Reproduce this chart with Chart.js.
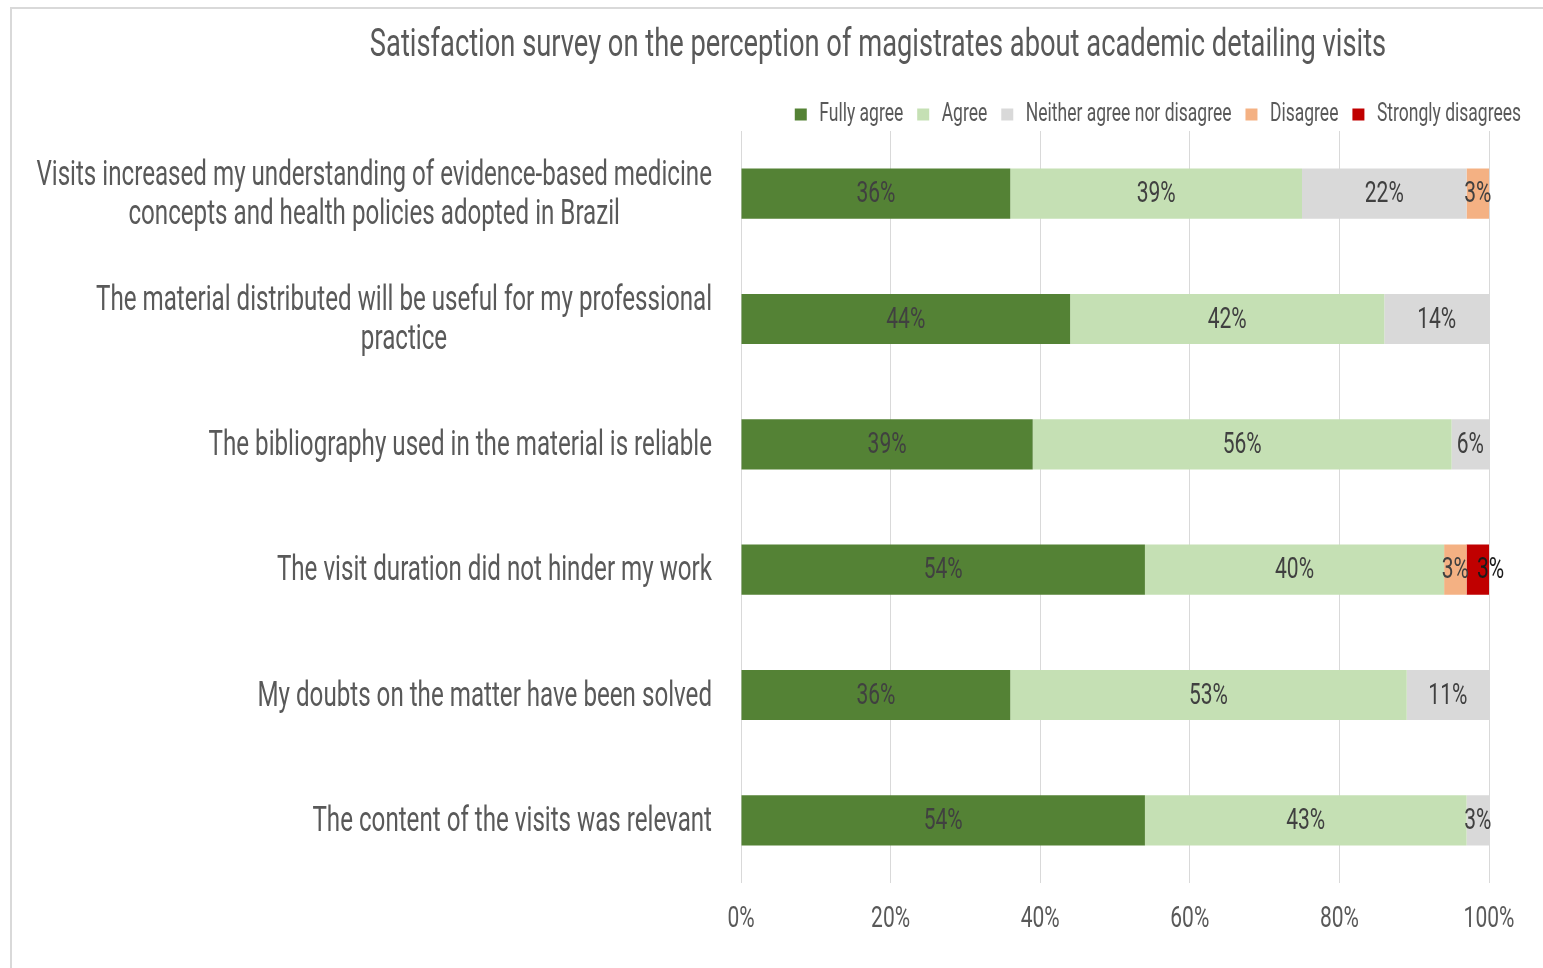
<!DOCTYPE html>
<html>
<head>
<meta charset="utf-8">
<title>Satisfaction survey</title>
<script src="https://cdn.jsdelivr.net/npm/chart.js@4.4.0/dist/chart.umd.min.js"></script>
<style>
  html, body { margin: 0; padding: 0; background: #fff; overflow: hidden; }
  #frame { position: absolute; left: 10px; top: 7px; width: 1600px; height: 1000px; border: 2px solid #d9d9d9; }
  #wrap { position: absolute; left: 0; top: 0; width: 1543px; height: 968px; }
</style>
</head>
<body>
<div id="frame"></div>
<div id="wrap"><canvas id="myChart" width="1543" height="968"></canvas></div>
<script>
const FONT = "Roboto, 'Noto Sans', sans-serif";
// no condensed face installed, so text gets squeezed horizontally
const SQUEEZE = 0.7;

const title = 'Satisfaction survey on the perception of magistrates about academic detailing visits';

// survey statements (one entry per line)
const questions = [
  ['Visits increased my understanding of evidence-based medicine', 'concepts and health policies adopted in Brazil'],
  ['The material distributed will be useful for my professional', 'practice'],
  ['The bibliography used in the material is reliable'],
  ['The visit duration did not hinder my work'],
  ['My doubts on the matter have been solved'],
  ['The content of the visits was relevant']
];

// answers in %
const fullyAgree        = [36, 44, 39, 54, 36, 54];
const agree             = [39, 42, 56, 40, 53, 43];
const neither           = [22, 14,  6,  0, 11,  3];
const disagree          = [ 3,  0,  0,  3,  0,  0];
const stronglyDisagrees = [ 0,  0,  0,  3,  0,  0];

const xTicks = [0, 20, 40, 60, 80, 100];

function serie(label, data, color, labelColor) {
  return {
    label: label,
    data: data,
    backgroundColor: color,
    borderWidth: 0,
    barPercentage: 0.4,
    categoryPercentage: 1,
    clip: 0,
    labelColor: labelColor || '#404040'
  };
}

function squeezeText(c) {
  const fill = c.fillText.bind(c);
  const measure = c.measureText.bind(c);
  c.fillText = function (text, x, y) {
    c.save();
    c.translate(x, y);
    c.scale(SQUEEZE, 1);
    fill(text, 0, 0);
    c.restore();
  };
  c.measureText = function (text) {
    const m = measure(text);
    return {
      width: m.width * SQUEEZE,
      actualBoundingBoxAscent: m.actualBoundingBoxAscent,
      actualBoundingBoxDescent: m.actualBoundingBoxDescent
    };
  };
}

// percentage text in the middle of every segment
const barLabels = {
  id: 'barLabels',
  afterDatasetsDraw(chart) {
    const { ctx, chartArea } = chart;
    const lastRight = {};
    ctx.save();
    ctx.font = '30px ' + FONT;
    ctx.textAlign = 'center';
    ctx.textBaseline = 'middle';
    chart.data.datasets.forEach((ds, di) => {
      chart.getDatasetMeta(di).data.forEach((bar, i) => {
        const v = ds.data[i];
        if (!v) return;
        const txt = v + '%';
        const w = ctx.measureText(txt).width;
        const x0 = Math.max(Math.min(bar.base, bar.x), chartArea.left);
        const x1 = Math.min(Math.max(bar.base, bar.x), chartArea.right);
        let cx = (x0 + x1) / 2;
        // push a label right if it would sit on top of the previous one
        if (lastRight[i] !== undefined && cx - w / 2 < lastRight[i] + 8) {
          cx = lastRight[i] + 8 + w / 2;
        }
        lastRight[i] = cx + w / 2;
        ctx.fillStyle = ds.labelColor;
        ctx.fillText(txt, cx, bar.y + 1);
      });
    });
    ctx.restore();
  }
};

// category labels: block right aligned, lines centred inside the block
const questionLabels = {
  id: 'questionLabels',
  afterDraw(chart) {
    const { ctx } = chart;
    const y = chart.scales.y;
    const right = chart.chartArea.left - 29;
    const lh = 39;
    ctx.save();
    ctx.font = '34.5px ' + FONT;
    ctx.fillStyle = '#595959';
    ctx.textAlign = 'center';
    ctx.textBaseline = 'middle';
    chart.data.labels.forEach((lines, i) => {
      const w = Math.max(...lines.map(l => ctx.measureText(l).width));
      const cx = right - w / 2;
      const cy = y.getPixelForValue(i) + 2;
      lines.forEach((l, j) => {
        ctx.fillText(l, cx, cy + (j - (lines.length - 1) / 2) * lh);
      });
    });
    ctx.restore();
  }
};

// heading sits over the middle of the plot + labels block
const heading = {
  id: 'heading',
  afterDraw(chart) {
    const { ctx } = chart;
    ctx.save();
    ctx.font = '39px ' + FONT;
    ctx.fillStyle = '#595959';
    ctx.textAlign = 'center';
    ctx.textBaseline = 'middle';
    ctx.fillText(title, 878, 46);
    ctx.restore();
  }
};

// legend row sits a little lower than the space reserved for it
const legendNudge = {
  id: 'legendNudge',
  afterLayout(chart) {
    chart.legend.top += 6;
    chart.legend.bottom += 6;
  }
};

const ctx = document.getElementById('myChart').getContext('2d');
squeezeText(ctx);

const chart = new Chart(ctx, {
  type: 'bar',
  data: {
    labels: questions,
    datasets: [
      serie('Fully agree', fullyAgree, '#548235'),
      serie('Agree', agree, '#c5e0b4'),
      serie('Neither agree nor disagree', neither, '#d9d9d9'),
      serie('Disagree', disagree, '#f4b183'),
      serie('Strongly disagrees', stronglyDisagrees, '#c00000', '#1a1a1a')
    ]
  },
  options: {
    indexAxis: 'y',
    responsive: false,
    animation: false,
    devicePixelRatio: 1,
    layout: { padding: { left: 0, right: 8, top: 82, bottom: 13 } },
    scales: {
      x: {
        stacked: true,
        min: 0,
        max: 100,
        afterBuildTicks: s => { s.ticks = xTicks.map(v => ({ value: v })); },
        grid: { color: '#d9d9d9', lineWidth: 1, drawTicks: false },
        border: { display: false },
        ticks: {
          padding: 18,
          color: '#595959',
          font: { size: 30, family: FONT },
          callback: v => v + '%'
        }
      },
      y: {
        stacked: true,
        grid: { display: false },
        border: { display: false },
        ticks: { display: false },
        afterFit: s => { s.width = 741; }
      },
      y2: {
        type: 'category',
        position: 'right',
        grid: { display: false },
        border: { display: false },
        ticks: { display: false },
        afterFit: s => { s.width = 46; }
      }
    },
    plugins: {
      title: { display: false },
      legend: {
        position: 'top',
        align: 'end',
        labels: {
          boxWidth: 12,
          boxHeight: 12,
          padding: 14,
          color: '#595959',
          font: { size: 25, family: FONT }
        }
      },
      tooltip: { enabled: false }
    }
  },
  plugins: [barLabels, questionLabels, heading, legendNudge]
});
</script>
</body>
</html>
